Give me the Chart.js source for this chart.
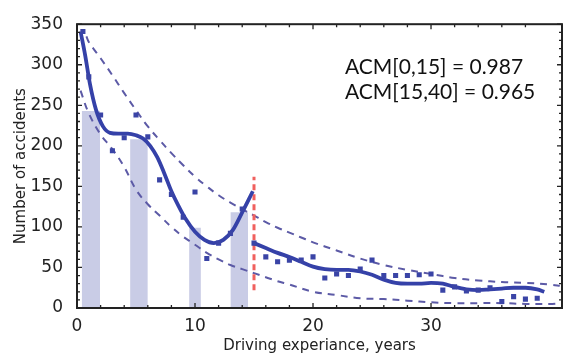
<!DOCTYPE html>
<html>
<head>
<meta charset="utf-8">
<script src="https://cdn.jsdelivr.net/npm/chart.js@4.4.0/dist/chart.umd.min.js"></script>
<style>
  body { margin: 0; background: #fff; }
  canvas { display: block; }
</style>
</head>
<body>
<canvas id="myChart" width="581" height="359"></canvas>
<script>
// observed accidents per year of driving experience
const years = [0.5, 1, 2, 3, 4, 5, 6, 7, 8, 9, 10, 11, 12, 13, 14, 15, 16, 17, 18, 19,
  20, 21, 22, 23, 24, 25, 26, 27, 28, 29, 30, 31, 32, 33, 34, 35, 36, 37, 38, 39];
const accidents = [341, 285, 238, 194, 210, 238, 211, 158, 140, 112, 143, 61, 80, 92, 122, 80, 63, 57, 59, 59,
  63, 37, 42, 40, 48, 59, 40, 40, 40, 41, 42, 22, 26, 21, 22, 25, 8, 14, 11, 12];

// fitted curve on [0,15]
const fit1X = [0.3, 0.7, 1.1, 1.6, 2.2, 2.8, 3.5, 4.3, 5.0, 5.6, 6.2, 6.8, 7.4, 8.0, 8.6, 9.2, 10.0, 10.8, 11.6, 12.4, 13.2, 14.0, 14.9];
const fit1Y = [341, 311, 276, 245, 224, 216, 215, 215, 213, 209, 200, 186, 166, 144, 126, 110, 94, 84, 80, 84, 96, 118, 144];

// fitted curve on [15,40]
const fit2X = [15, 16, 17, 18, 19, 20, 21, 22, 23, 24, 25, 26, 27, 28, 29, 30, 31, 32, 33, 34, 35, 36, 37, 38, 39, 39.6];
const fit2Y = [80, 74, 68, 63, 57, 51, 48, 47, 47, 45, 41, 35, 31, 30, 30, 31, 30, 26, 23, 22, 23, 24, 25, 25, 23, 20];

// confidence bounds
const upperX = [0.8, 1, 2, 3, 4, 5, 6, 7, 8, 9, 10, 11, 12, 13, 14, 15, 16, 17, 18, 19, 20, 22, 24, 26, 28, 30, 32, 34, 36, 38, 40, 41.1];
const upperY = [335, 328, 308, 287, 265, 244, 224, 207, 191, 176, 162, 150, 139, 130, 122, 114, 106, 99, 93, 87, 81, 71, 61, 53, 47, 42, 37, 34, 32, 31, 29, 27];
const lowerX = [0.3, 1, 2, 3, 4, 5, 6, 7, 8, 9, 10, 11, 12, 13, 14, 15, 16, 17, 18, 20, 22, 24, 26, 28, 30, 32, 34, 36, 38, 40, 41.1];
const lowerY = [268, 240, 214, 196, 174, 146, 128, 114, 100, 88, 78, 68, 60, 53, 48, 43, 38, 33, 29, 20, 16, 12, 11, 9, 7, 6, 6, 6, 5, 5, 6];

// shaded intervals
const bandStart = [0.4, 4.5, 9.5, 13.0];
const bandEnd = [1.95, 6.0, 10.5, 14.5];
const bandTop = [243, 208, 99, 118];

// split line at 15 years
const splitX = 15;
const splitRange = [22, 162];

const xTicks = [0, 10, 20, 30, 40];
const yTicks = [0, 50, 100, 150, 200, 250, 300, 350];
const notes = ['ACM[0,15] = 0.987', 'ACM[15,40] = 0.965'];

const pts = (xs, ys) => xs.map((x, i) => ({ x: x, y: ys[i] }));

const bandSets = bandStart.map((s, i) => ({
  type: 'line',
  data: [{ x: s, y: 0 }, { x: s, y: bandTop[i] }, { x: bandEnd[i], y: bandTop[i] }, { x: bandEnd[i], y: 0 }],
  borderWidth: 0,
  borderColor: 'rgba(0,0,0,0)',
  backgroundColor: '#c9cce6',
  fill: 'origin',
  pointRadius: 0,
  tension: 0,
  order: 10
}));

const dashed = {
  borderColor: '#5c5aa6',
  borderWidth: 2,
  borderDash: [7, 6],
  pointRadius: 0,
  fill: false,
  tension: 0.4,
  order: 5
};

const frame = {
  id: 'frame',
  afterDraw(chart) {
    const c = chart.ctx, a = chart.chartArea;
    const xs = chart.scales.x, ys = chart.scales.y;
    c.save();
    c.strokeStyle = '#222';
    c.lineWidth = 2;
    c.strokeRect(a.left, a.top, a.right - a.left, a.bottom - a.top);
    c.lineWidth = 1.3;
    c.beginPath();
    xs.ticks.forEach(t => {
      const px = xs.getPixelForValue(t.value);
      const len = t.value % 10 === 0 ? 5 : 3;
      c.moveTo(px, a.bottom); c.lineTo(px, a.bottom - len);
      c.moveTo(px, a.top); c.lineTo(px, a.top + len);
    });
    ys.ticks.forEach(t => {
      const py = ys.getPixelForValue(t.value);
      const len = t.value % 50 === 0 ? 5 : 3;
      c.moveTo(a.left, py); c.lineTo(a.left + len, py);
      c.moveTo(a.right, py); c.lineTo(a.right - len, py);
    });
    c.stroke();
    // goodness-of-fit notes
    c.fillStyle = '#111';
    c.font = '21px Lato';
    c.textAlign = 'left';
    c.textBaseline = 'alphabetic';
    notes.forEach((n, i) => c.fillText(n, 345, 74 + i * 25));
    c.restore();
  }
};

const narrow = '"DejaVu Sans", sans-serif';

new Chart(document.getElementById('myChart'), {
  type: 'scatter',
  data: {
    datasets: [
      {
        type: 'scatter',
        data: pts(years, accidents),
        pointStyle: 'rect',
        pointRadius: 3.6,
        backgroundColor: '#3a44a6',
        borderWidth: 0,
        order: 1
      },
      {
        type: 'line',
        data: pts(fit1X, fit1Y),
        borderColor: '#3541a8',
        borderWidth: 3.8,
        pointRadius: 0,
        cubicInterpolationMode: 'monotone',
        fill: false,
        order: 2
      },
      {
        type: 'line',
        data: pts(fit2X, fit2Y),
        borderColor: '#3541a8',
        borderWidth: 3.8,
        pointRadius: 0,
        cubicInterpolationMode: 'monotone',
        fill: false,
        order: 2
      },
      Object.assign({ type: 'line', data: pts(upperX, upperY) }, dashed),
      Object.assign({ type: 'line', data: pts(lowerX, lowerY) }, dashed),
      {
        type: 'line',
        data: [{ x: splitX, y: splitRange[0] }, { x: splitX, y: splitRange[1] }],
        borderColor: '#f0605e',
        borderWidth: 3,
        borderDash: [6, 4],
        pointRadius: 0,
        fill: false,
        order: 4
      },
      ...bandSets
    ]
  },
  options: {
    responsive: false,
    animation: false,
    layout: { padding: { left: 0, right: 19, top: 17, bottom: 0 } },
    plugins: {
      legend: { display: false },
      tooltip: { enabled: false }
    },
    scales: {
      x: {
        type: 'linear',
        min: 0,
        max: 41.1,
        grid: { display: false, drawTicks: false },
        border: { display: false },
        ticks: {
          stepSize: 2,
          autoSkip: false,
          maxRotation: 0,
          padding: 8,
          color: '#222',
          font: { family: narrow, size: 17, style: 'condensed' },
          callback: v => xTicks.includes(v) ? String(v) : ''
        },
        title: {
          display: true,
          text: 'Driving experiance, years',
          color: '#222',
          font: { family: narrow, size: 15, style: 'condensed' },
          padding: { top: 0, bottom: 4 }
        },
        afterFit: s => { s.height = 51; }
      },
      y: {
        min: 0,
        max: 350,
        grid: { display: false, drawTicks: false },
        border: { display: false },
        ticks: {
          stepSize: 10,
          autoSkip: false,
          padding: 14,
          color: '#222',
          font: { family: narrow, size: 17, style: 'condensed' },
          callback: v => yTicks.includes(v) ? String(v) : ''
        },
        title: {
          display: true,
          text: 'Number of accidents',
          color: '#222',
          font: { family: narrow, size: 15, style: 'condensed' },
          padding: { top: 12, bottom: 0 }
        },
        afterFit: s => { s.width = 77; }
      }
    }
  },
  plugins: [frame]
});
</script>
</body>
</html>
